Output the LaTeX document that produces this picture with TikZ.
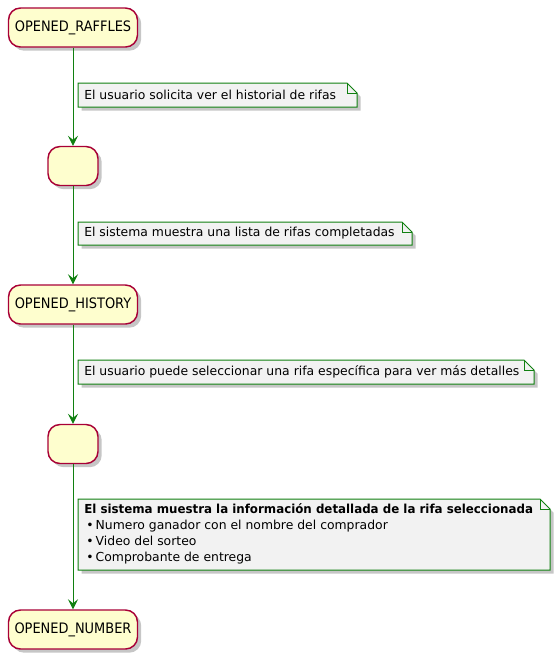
\documentclass[tikz,border=0pt]{standalone}
\usepackage{fontspec}
\setmainfont{DejaVu Sans}
\newfontfamily\statefont{DejaVu Sans Condensed}
\usetikzlibrary{shadows,arrows.meta}
\definecolor{statefill}{HTML}{FEFECE}
\definecolor{stateborder}{HTML}{A80036}
\definecolor{notefill}{HTML}{F2F2F2}
\definecolor{linegreen}{HTML}{108010}
\tikzset{
  statebox/.style={draw=stateborder, fill=statefill, line width=1.1pt,
    rounded corners=9pt, inner sep=0pt, minimum height=29.25pt,
    font=\statefont\fontsize{10.8pt}{12pt}\selectfont,
    drop shadow={opacity=0.45, shadow xshift=2.8pt, shadow yshift=-2.8pt}},
  emptybox/.style={statebox, minimum width=37.5pt},
  namedbox/.style={statebox, minimum width=96.75pt},
  noteshape/.style={draw=linegreen, fill=notefill, line width=0.75pt,
    drop shadow={opacity=0.45, shadow xshift=2.8pt, shadow yshift=-2.8pt}},
  notetext/.style={inner sep=0pt, align=left, anchor=west,
    font=\fontsize{9.3pt}{12pt}\selectfont},
  flow/.style={draw=linegreen, line width=0.7pt,
    -{Stealth[length=7.5pt, width=7.5pt, inset=3pt]}},
}
\newcommand{\notepath}[4]{%
  \path[noteshape] (#1,#2) -- (#3-10,#2) -- (#3,#2+10) -- (#3,#4) -- (#1,#4) -- cycle;
  \draw[linegreen, line width=0.75pt] (#3-10,#2) -- (#3-10,#2+10) -- (#3,#2+10);
}
\begin{document}
\begin{tikzpicture}[x=0.75pt, y=-0.75pt]
\useasboundingbox (0,0) rectangle (556,662);

% states
\node[namedbox] (s1) at (73,27.5) {OPENED\_RAFFLES};
\node[emptybox] (s2) at (73,166) {};
\node[namedbox] (s3) at (73,304.5) {OPENED\_HISTORY};
\node[emptybox] (s4) at (73,444) {};
\node[namedbox] (s5) at (73,629.5) {OPENED\_NUMBER};

% connectors
\draw[flow] (s1.south) -- (s2.north);
\draw[flow] (s2.south) -- (s3.north);
\draw[flow] (s3.south) -- (s4.north);
\draw[flow] (s4.south) -- (s5.north);

% notes
\notepath{78}{83}{357}{107}
\node[notetext] (n1) at (84,95) {El usuario solicita ver el historial de rifas};

\notepath{78}{222}{412}{245}
\node[notetext] (n2) at (84,233.5) {El sistema muestra una lista de rifas completadas};

\notepath{78}{360}{534}{384}
\node[notetext] (n3) at (84,372) {El usuario puede seleccionar una rifa específica para ver más detalles};

\notepath{78}{499}{550}{570}
\node[notetext, anchor=north west] (n4) at (84,503.5) {\resizebox{336.5pt}{\height}{\textbf{El sistema muestra la información detallada de la rifa seleccionada}}\\
\,•\,Numero ganador con el nombre del comprador\\
\,•\,Video del sorteo\\
\,•\,Comprobante de entrega};
\end{tikzpicture}
\end{document}
